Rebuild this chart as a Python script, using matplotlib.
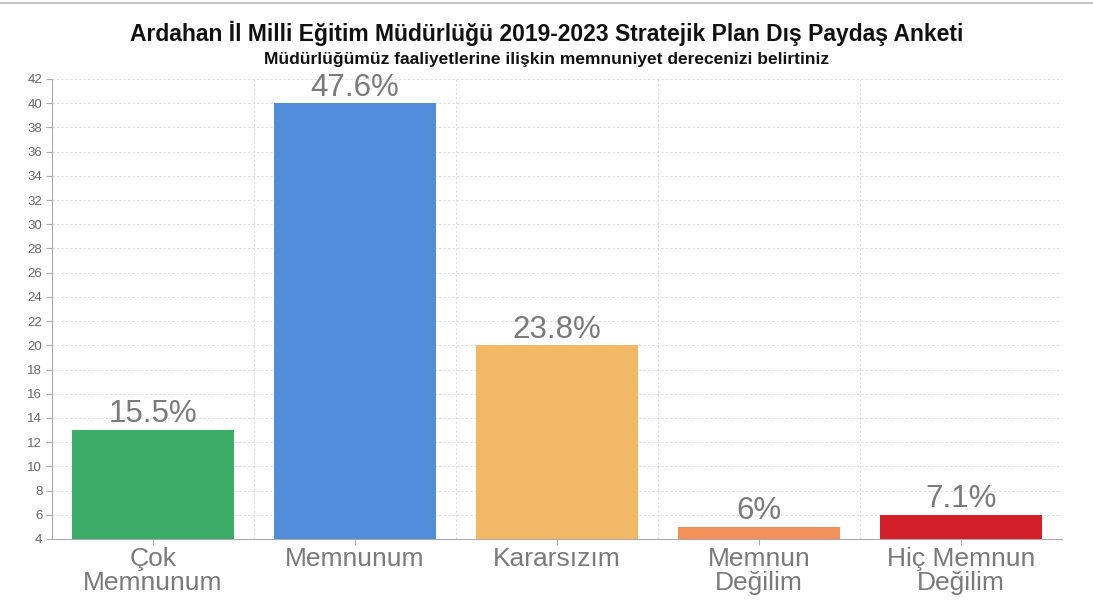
import matplotlib
matplotlib.use("Agg")
import matplotlib.pyplot as plt
from matplotlib.lines import Line2D

categories = ["Çok\nMemnunum", "Memnunum", "Kararsızım", "Memnun\nDeğilim", "Hiç Memnun\nDeğilim"]
values = [13, 40, 20, 5, 6]
labels = ["15.5%", "47.6%", "23.8%", "6%", "7.1%"]
colors = ["#3cad69", "#528ddb", "#f1b865", "#f2925a", "#d41f2a"]
yticks = list(range(4, 43, 2))

plt.rcParams['font.family'] = ['Liberation Sans', 'DejaVu Sans']

fig = plt.figure(figsize=(10.93, 6.15), dpi=100)
ax = fig.add_axes([0.0476, 0.1236, 0.924, 0.748])

x = list(range(len(categories)))
ax.bar(x, [v - 4 for v in values], bottom=4, width=0.8, color=colors, zorder=3)
for xi, v, lab in zip(x, values, labels):
    ax.text(xi, v + 0.05, lab, ha='center', va='bottom', fontsize=22.5, color='#7a7a7a', zorder=4)

ax.set_xlim(-0.5, len(categories) - 0.5)
ax.set_ylim(4, 42)
ax.set_yticks(yticks)
ax.set_yticklabels([str(t) for t in yticks], fontsize=9.5, color='#666666')
ax.set_xticks(x)
ax.set_xticklabels(categories, fontsize=19, color='#7a7a7a', linespacing=1.0)
ax.tick_params(axis='y', length=4, color='#aaaaaa', pad=3)
ax.tick_params(axis='x', length=4, color='#aaaaaa', pad=2)

ax.yaxis.grid(True, linestyle=(0, (2, 2)), color='#dddddd', linewidth=0.8, zorder=0)
for b in [0.5, 1.5, 2.5, 3.5]:
    ax.axvline(b, linestyle=(0, (2, 2)), color='#dddddd', linewidth=0.8, zorder=0)

for s in ['top', 'right']:
    ax.spines[s].set_visible(False)
ax.spines['left'].set_color('#aaaaaa')
ax.spines['bottom'].set_color('#aaaaaa')

fig.text(0.5, 0.946, "Ardahan İl Milli Eğitim Müdürlüğü 2019-2023 Stratejik Plan Dış Paydaş Anketi",
         ha='center', va='center', fontsize=16.5, fontweight='bold', color='#111111')
fig.text(0.5, 0.904, "Müdürlüğümüz faaliyetlerine ilişkin memnuniyet derecenizi belirtiniz",
         ha='center', va='center', fontsize=12.5, fontweight='bold', color='#111111')

fig.add_artist(Line2D([0, 1], [0.995, 0.995], color='#bbbbbb', linewidth=1.2, transform=fig.transFigure))

fig.savefig("out.png", dpi=100)
